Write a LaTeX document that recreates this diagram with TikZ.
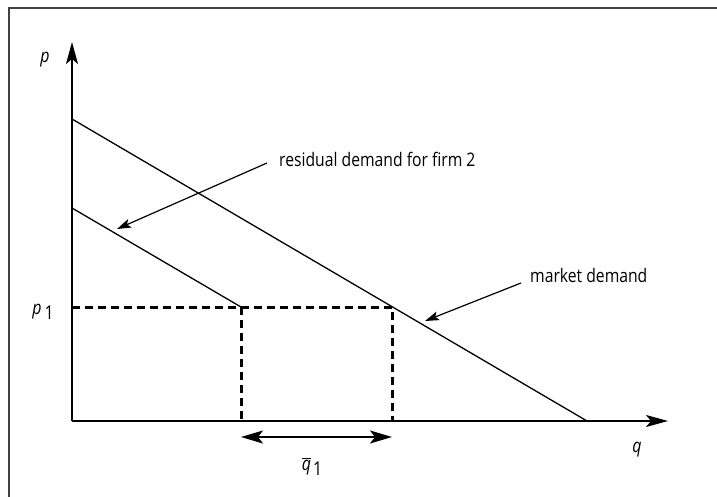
\documentclass[tikz,border=0pt]{standalone}
\usepackage{fontspec}
\setmainfont{Open Sans}[FakeStretch=0.84]
\usetikzlibrary{arrows.meta}
\begin{document}
\begin{tikzpicture}[x=1pt,y=-1pt,
  axis/.style={line width=1.6pt,-{Stealth[length=22pt,width=12pt,inset=5pt]}},
  demand/.style={line width=1.3pt},
  guide/.style={line width=3.0pt,dash pattern=on 8pt off 5pt},
  callout/.style={line width=1.2pt,-{Stealth[length=14pt,width=9pt,inset=3pt]}},
  lbl/.style={inner sep=0pt,font=\fontsize{18.7}{22}\selectfont},
  var/.style={inner sep=0pt,font=\fontsize{19}{22}\selectfont\itshape}]
\useasboundingbox (0,0) rectangle (717,497);
\draw[line width=1.5pt,draw=black!75] (9,497) |- (717,8);
% key points
\coordinate (O) at (72,421);
\coordinate (ytop) at (72,42);
\coordinate (xend) at (668,421);
\coordinate (mA) at (72,119);
\coordinate (mB) at (587,421);
\coordinate (rA) at (72,208);
\coordinate (rB) at (241,307);
\coordinate (mP) at (392,307);
\coordinate (p1) at (72,307);
\coordinate (q1a) at (241,421);
\coordinate (q1b) at (392,421);
\coordinate (dA) at (241,437);
\coordinate (dB) at (392,437);
% guides
\draw[guide] (p1) -- (mP) -- (q1b);
\draw[guide] (rB) -- (q1a);
% axes
\draw[axis] (O) -- (ytop);
\draw[axis] (O) -- (xend);
% demand lines
\draw[demand] (mA) -- (mB);
\draw[demand] (rA) -- (rB);
% double arrow
\draw[line width=1.6pt,{Stealth[length=22pt,width=13pt,inset=5pt]}-{Stealth[length=22pt,width=13pt,inset=5pt]}] (dA) -- (dB);
% labels
\node[lbl,anchor=west] (rl) at (279,159) {residual demand for firm 2};
\node[lbl,anchor=west] (ml) at (530,275) {market demand};
\coordinate (rt) at (117,229);
\coordinate (mt) at (425,321);
\draw[callout] (rl.west) ++(-12,4) coordinate (rs) -- (rt);
\draw[callout] (ml.west) ++(-9,8) coordinate (ms) -- (mt);
\node[var] (pl) at (45,60) {p};
\node[var,anchor=base east] (p1l) at (54,314) {p\hspace{3pt}\upshape\raisebox{-5pt}{1}};
\node[var] (ql) at (637,450) {q};
\node[var,anchor=base] (qbl) at (312,470) {$\overline{\mbox{\itshape q}}$\hspace{2pt}\upshape\raisebox{-5pt}{1}};
\end{tikzpicture}
\end{document}
